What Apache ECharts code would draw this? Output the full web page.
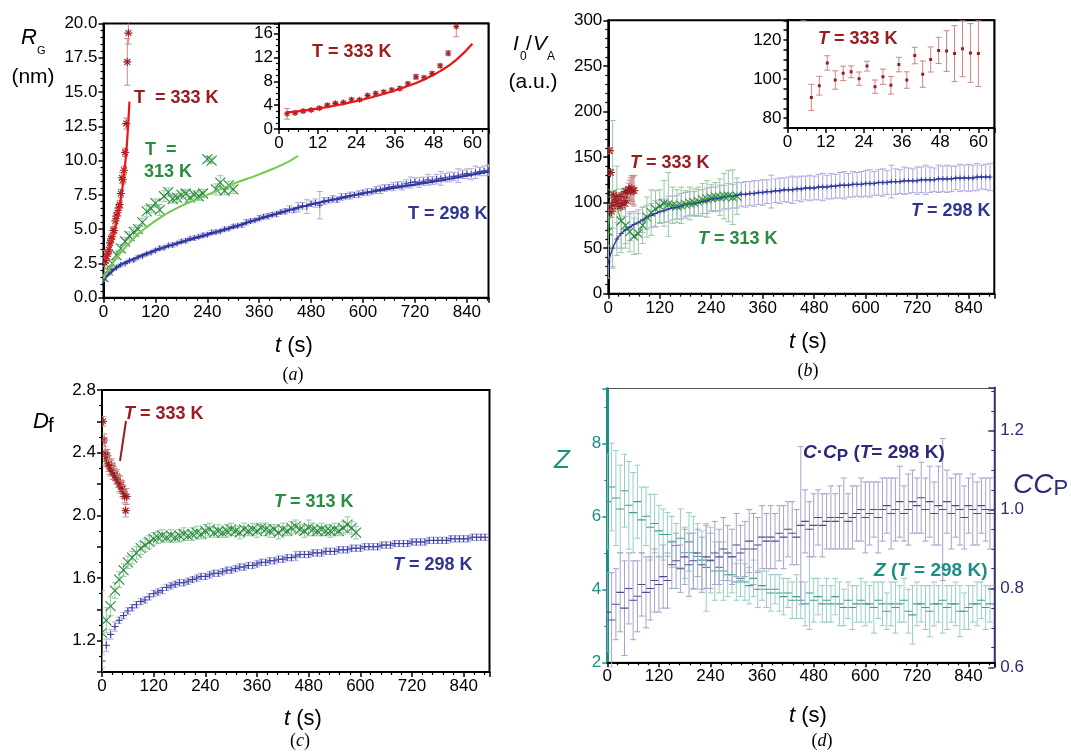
<!DOCTYPE html>
<html><head><meta charset="utf-8">
<script src="https://cdn.jsdelivr.net/npm/echarts@6/dist/echarts.min.js"></script>
<style>html,body{margin:0;padding:0;background:#fff}#chart{width:1071px;height:752px}</style>
</head><body><div id="chart"></div>
<script>
// ---- measurement times (s) ----
const t298 = [0,10,20,30,40,50,60,70,80,90,100,110,120,130,140,150,160,170,180,190,200,210,220,230,240,250,260,270,280,290,300,310,320,330,340,350,360,370,380,390,400,410,420,430,440,450,460,470,480,490,500,510,520,530,540,550,560,570,580,590,600,610,620,630,640,650,660,670,680,690,700,710,720,730,740,750,760,770,780,790,800,810,820,830,840,850,860,870,880,890];
const t313 = [0,10,20,30,40,50,60,70,80,90,100,110,120,130,140,150,160,170,180,190,200,210,220,230,240,250,260,270,280,290,300];
const t313Df = [0,10,20,30,40,50,60,70,80,90,100,110,120,130,140,150,160,170,180,190,200,210,220,230,240,250,260,270,280,290,300,310,320,330,340,350,360,370,380,390,400,410,420,430,440,450,460,470,480,490,500,510,520,530,540,550,560,570,580,590];
const t333 = [2.5,5,7.5,10,12.5,15,17.5,20,22.5,25,27.5,30,32.5,35,37.5,40,42.5,45,47.5,50,52.5,55,57.5];
const t333Iva = [2.5,5,7.5,10,12.5,15,17.5,20,22.5,25,27.5,30,32.5,35,37.5,40,42.5,45,47.5,50,52.5,55,57.5,60];

// ---- (a) radius of gyration R_G (nm) ----
const rg298 = [1.30,1.75,2.05,2.20,2.40,2.50,2.70,2.75,2.95,3.05,3.20,3.30,3.45,3.60,3.65,3.80,3.85,3.95,4.10,4.15,4.30,4.35,4.45,4.55,4.60,4.75,4.80,4.85,5.00,5.05,5.20,5.25,5.30,5.50,5.60,5.65,5.80,5.90,5.95,6.05,6.10,6.25,6.30,6.45,6.40,6.60,6.70,6.65,6.85,6.90,6.75,7.05,7.10,7.20,7.15,7.35,7.40,7.45,7.50,7.55,7.65,7.70,7.75,7.85,7.90,8.00,8.05,8.10,8.20,8.15,8.30,8.40,8.45,8.40,8.50,8.60,8.55,8.65,8.70,8.75,8.80,8.85,8.90,9.00,9.05,9.00,9.15,9.20,9.25,9.30];
const rg298Err = [0.10,0.12,0.10,0.10,0.12,0.10,0.12,0.10,0.12,0.10,0.12,0.10,0.12,0.15,0.10,0.12,0.15,0.10,0.12,0.15,0.12,0.15,0.12,0.15,0.12,0.15,0.15,0.12,0.15,0.12,0.15,0.12,0.15,0.20,0.15,0.12,0.20,0.15,0.20,0.15,0.20,0.15,0.20,0.25,0.20,0.35,0.25,0.50,0.20,0.30,1.00,0.25,0.20,0.25,0.20,0.25,0.20,0.25,0.20,0.25,0.20,0.25,0.20,0.25,0.30,0.25,0.20,0.30,0.25,0.30,0.30,0.40,0.30,0.35,0.30,0.40,0.30,0.35,0.50,0.30,0.35,0.30,0.50,0.30,0.35,0.40,0.45,0.30,0.35,0.40];
const rg313 = [1.5,2.0,2.5,3.1,3.6,4.1,4.5,4.8,5.0,5.5,6.3,6.5,6.9,6.4,7.4,7.7,7.2,7.3,7.5,7.6,7.3,7.5,7.4,7.6,10.1,10.0,7.9,8.4,7.8,8.2,7.9];
const rg313Err = [0.2,0.3,0.3,0.3,0.3,0.3,0.3,0.3,0.3,0.3,0.4,0.3,0.3,0.4,0.4,0.3,0.3,0.3,0.3,0.3,0.3,0.3,0.3,0.3,0.2,0.2,0.4,0.5,0.3,0.3,0.3];
const rg333 = [2.55,2.7,3.0,3.2,3.5,4.0,4.3,4.45,4.9,4.9,5.6,5.95,6.2,6.55,6.8,7.6,8.75,8.6,9.3,10.6,12.7,17.2,19.3];
const rg333Err = [0.9,0.2,0.2,0.2,0.2,0.2,0.2,0.2,0.3,0.2,0.3,0.3,0.3,0.3,0.3,0.3,0.4,0.3,0.3,0.3,0.4,1.7,0.8];
// fitted growth curves
const fit298T = [0,30,60,120,180,240,300,360,420,480,540,600,660,720,780,840,890];
const fit298 = [1.3,2.2,2.7,3.45,4.05,4.6,5.15,5.75,6.3,6.8,7.2,7.6,7.95,8.25,8.55,8.9,9.2];
const fit313T = [0,15,30,60,90,120,150,180,210,240,270,300,360,420,450];
const fit313 = [1.4,2.2,2.9,4.0,4.9,5.6,6.2,6.7,7.1,7.5,7.9,8.3,9.0,9.8,10.35];
const fit333T = [2.5,10,20,30,40,45,50,55,60];
const fit333 = [2.8,3.25,4.2,5.5,7.2,8.3,9.7,11.6,14.3];

// ---- (b) forward scattering per volume I0/VA (a.u.) ----
const iva298 = [35,50,60,66,70,73,76,78,81,84,86,88,90,91,93,94,95,96,98,99,99,100,101,102,104,104,105,106,107,107,108,109,109,110,110,111,111,112,112,113,113,114,114,114,115,115,116,116,116,117,117,117,118,118,119,119,119,120,120,120,121,121,121,122,122,122,123,123,123,124,124,124,124,125,125,125,125,126,126,126,126,127,127,127,127,127,128,128,128,128];
const iva298Err = [18,22,18,16,15,15,14,14,14,13,13,14,13,13,14,13,13,14,13,13,13,14,13,14,13,13,14,13,14,13,14,13,14,13,14,13,14,13,18,13,14,13,14,15,13,14,13,14,13,14,15,13,14,13,14,15,13,14,13,14,14,15,13,14,15,13,18,14,13,15,14,13,15,14,16,14,13,15,14,15,14,13,15,14,15,14,15,13,14,15];
const iva313 = [68,110,95,80,75,68,63,66,75,84,89,93,96,99,98,97,96,97,98,99,100,101,103,104,105,106,106,107,107,106,107];
const iva313Err = [30,80,45,35,25,22,20,22,20,22,25,20,18,25,35,20,18,20,15,18,15,16,18,20,15,16,20,25,28,30,20];
const iva333 = [157,133,90.6,96.6,108.2,99.5,102.9,103.7,100.2,106.6,96.1,101.2,96.8,107.4,99.5,112,102.5,110,114.6,114.3,113,115.5,113.3,113];
const iva333Err = [3,3,6.7,4.8,3.7,4.7,3.7,3,3.4,2.5,3.4,3.9,4.5,3.7,4.2,4.2,6.7,6.4,6.7,10.4,14.3,14.3,15,16.8];

// ---- (c) fractal dimension Df ----
const df298 = [1.07,1.17,1.24,1.29,1.33,1.36,1.39,1.41,1.43,1.45,1.46,1.48,1.50,1.51,1.52,1.54,1.55,1.56,1.57,1.57,1.58,1.59,1.60,1.61,1.61,1.62,1.63,1.63,1.64,1.65,1.65,1.66,1.67,1.67,1.68,1.68,1.69,1.70,1.70,1.71,1.71,1.72,1.72,1.73,1.73,1.74,1.75,1.75,1.75,1.76,1.76,1.76,1.77,1.77,1.77,1.78,1.78,1.78,1.79,1.79,1.79,1.80,1.80,1.80,1.80,1.81,1.81,1.81,1.82,1.82,1.82,1.82,1.83,1.83,1.83,1.83,1.84,1.84,1.84,1.84,1.84,1.85,1.85,1.85,1.85,1.85,1.86,1.86,1.86,1.86];
const df298Err = [0.04,0.04,0.03,0.03,0.02,0.02,0.02,0.02,0.02,0.02,0.02,0.02,0.02,0.02,0.02,0.02,0.02,0.02,0.02,0.02,0.02,0.02,0.02,0.02,0.02,0.02,0.02,0.02,0.02,0.02,0.02,0.02,0.02,0.02,0.02,0.02,0.02,0.02,0.02,0.02,0.02,0.02,0.02,0.02,0.02,0.03,0.02,0.02,0.02,0.02,0.02,0.02,0.02,0.02,0.02,0.02,0.02,0.02,0.02,0.02,0.02,0.02,0.02,0.02,0.02,0.02,0.02,0.02,0.02,0.02,0.02,0.02,0.02,0.02,0.02,0.02,0.02,0.02,0.02,0.02,0.02,0.02,0.02,0.02,0.02,0.02,0.02,0.02,0.02,0.02];
const df313 = [1.25,1.33,1.42,1.52,1.59,1.65,1.70,1.73,1.76,1.79,1.81,1.83,1.85,1.86,1.87,1.86,1.87,1.86,1.87,1.88,1.87,1.88,1.89,1.88,1.90,1.91,1.89,1.90,1.89,1.90,1.91,1.90,1.89,1.91,1.90,1.91,1.90,1.92,1.91,1.90,1.91,1.89,1.91,1.90,1.92,1.93,1.91,1.90,1.92,1.91,1.90,1.91,1.90,1.90,1.91,1.90,1.92,1.94,1.92,1.89];
const df313Err = [0.27,0.08,0.06,0.05,0.05,0.04,0.04,0.04,0.04,0.04,0.04,0.04,0.04,0.04,0.04,0.03,0.04,0.03,0.04,0.04,0.03,0.04,0.04,0.03,0.04,0.04,0.03,0.04,0.03,0.04,0.04,0.03,0.04,0.04,0.03,0.04,0.04,0.03,0.04,0.04,0.03,0.04,0.04,0.03,0.04,0.04,0.03,0.04,0.05,0.04,0.03,0.04,0.03,0.04,0.04,0.03,0.04,0.05,0.04,0.04];
const df333 = [2.60,2.48,2.40,2.36,2.38,2.33,2.31,2.30,2.32,2.28,2.27,2.26,2.24,2.25,2.22,2.20,2.21,2.18,2.17,2.15,2.12,2.03,2.12];
const df333Err = [0.03,0.04,0.08,0.05,0.04,0.05,0.05,0.05,0.04,0.05,0.04,0.04,0.04,0.04,0.04,0.05,0.04,0.04,0.05,0.04,0.04,0.04,0.05];

// ---- (d) coordination number Z and C*Cp at 298 K ----
const z298 = [6.4,6.8,6.5,6.2,6.7,6.3,6.1,6.4,5.9,6.0,5.7,5.8,5.6,5.5,5.5,5.3,5.2,5.4,5.0,5.3,5.0,4.9,4.8,4.6,4.8,4.5,4.6,4.5,4.4,4.4,4.2,4.3,4.2,4.1,4.3,4.0,4.1,4.0,3.9,4.0,3.9,3.8,3.9,3.7,3.8,3.7,3.6,3.9,3.7,3.8,3.6,3.7,3.6,3.8,3.6,3.5,3.7,3.5,3.6,3.7,3.6,3.6,3.5,3.7,3.6,3.4,3.6,3.5,3.6,3.7,3.4,3.3,3.6,3.6,3.5,3.4,3.6,3.6,3.7,3.5,3.6,3.6,3.4,3.4,3.5,3.6,3.6,3.7,3.5,3.6];
const z298Err = [1.3,1.2,1.3,1.2,1.0,1.2,1.1,1.0,0.9,0.8,0.9,0.8,0.7,0.7,0.6,0.7,0.6,0.8,0.7,0.8,1.0,0.9,0.8,1.2,0.9,0.8,0.7,0.8,0.6,0.5,0.5,0.5,0.5,0.5,0.5,0.5,0.4,0.5,0.5,0.4,0.5,0.5,0.4,0.5,0.6,0.5,0.6,1.0,0.6,0.5,0.5,0.6,0.5,0.5,0.6,0.5,0.5,0.6,0.5,0.6,0.6,0.5,0.7,0.5,0.6,0.5,0.6,0.7,0.5,0.6,0.6,0.8,0.6,0.5,0.6,0.7,0.6,0.5,0.9,0.6,0.5,0.6,0.7,0.5,0.6,0.5,0.6,0.5,0.6,0.5];
const cc298 = [0.74,0.72,0.76,0.79,0.75,0.80,0.77,0.78,0.81,0.79,0.80,0.82,0.81,0.83,0.82,0.86,0.87,0.85,0.88,0.86,0.87,0.89,0.86,0.88,0.87,0.89,0.88,0.90,0.89,0.88,0.91,0.89,0.90,0.92,0.90,0.91,0.93,0.92,0.93,0.92,0.94,0.93,0.95,0.94,0.93,0.96,0.97,0.95,0.96,0.98,0.96,0.97,0.98,0.97,0.98,0.99,0.97,0.98,0.99,1.00,0.98,0.99,1.00,0.98,1.00,1.01,0.99,1.00,1.02,0.99,1.00,1.02,1.01,1.03,1.00,1.02,0.99,1.01,1.00,1.02,0.99,1.01,1.00,0.98,1.01,1.00,0.99,1.01,1.00,0.99];
const cc298Err = [0.10,0.12,0.09,0.10,0.12,0.09,0.10,0.09,0.08,0.09,0.08,0.08,0.07,0.08,0.07,0.06,0.07,0.06,0.07,0.08,0.07,0.06,0.07,0.08,0.07,0.08,0.07,0.08,0.07,0.07,0.08,0.07,0.07,0.08,0.09,0.07,0.08,0.07,0.08,0.07,0.07,0.08,0.07,0.08,0.07,0.20,0.08,0.07,0.08,0.07,0.08,0.07,0.08,0.07,0.08,0.09,0.07,0.08,0.07,0.08,0.09,0.08,0.07,0.09,0.08,0.07,0.09,0.08,0.09,0.07,0.09,0.08,0.07,0.09,0.08,0.09,0.08,0.10,0.18,0.08,0.09,0.08,0.09,0.08,0.07,0.09,0.08,0.07,0.08,0.09];

// ---- styling ----
const COL = {
  darkRed:'#9b1c20', redFit:'#e5171b', redBar:'#c98886',
  green:'#2a8c3e', greenFit:'#74c94c', greenBar:'#97c9a0',
  blue:'#2e3494', blueMark:'#3c3fa6', blueBar:'#aeacdc', blueFit:'#2c39a0',
  teal:'#1e8e84', tealMark:'#3c9c92', tealBar:'#98ccc5',
  navy:'#2c2a78', navyMark:'#4b4891', navyBar:'#a5a2cb'
};
const SANS = '"Liberation Sans", Arial, sans-serif';
const SERIF = '"Liberation Serif", "Times New Roman", serif';

function zip3(t, v, e) { return t.map((x, i) => [x, v[i], e[i]]); }
function zip2(t, v) { return t.map((x, i) => [x, v[i]]); }

// error bar with caps plus a stroked marker glyph
function errRender(kind, size, markColor, barColor, cap) {
  return function (params, api) {
    const t = api.value(0), v = api.value(1), e = api.value(2);
    const c = api.coord([t, v]);
    const hi = api.coord([t, v + e]);
    const lo = api.coord([t, v - e]);
    const ch = [];
    const bs = { stroke: barColor, lineWidth: 1 };
    if (e > 0) {
      ch.push({ type: 'line', shape: { x1: c[0], y1: hi[1], x2: c[0], y2: lo[1] }, style: bs });
      ch.push({ type: 'line', shape: { x1: c[0] - cap, y1: hi[1], x2: c[0] + cap, y2: hi[1] }, style: bs });
      ch.push({ type: 'line', shape: { x1: c[0] - cap, y1: lo[1], x2: c[0] + cap, y2: lo[1] }, style: bs });
    }
    const h = size / 2, x = c[0], y = c[1];
    const ms = { stroke: markColor, lineWidth: 1.1 };
    const seg = (x1, y1, x2, y2) => ch.push({ type: 'line', shape: { x1, y1, x2, y2 }, style: ms });
    if (kind === 'plus' || kind === 'star') { seg(x - h, y, x + h, y); seg(x, y - h, x, y + h); }
    if (kind === 'cross') { seg(x - h, y - h, x + h, y + h); seg(x - h, y + h, x + h, y - h); }
    if (kind === 'star') { const d = h * 0.72; seg(x - d, y - d, x + d, y + d); seg(x - d, y + d, x + d, y - d); }
    if (kind === 'dash') seg(x - h, y, x + h, y);
    if (kind === 'dot') ch.push({ type: 'rect', shape: { x: x - 1.5, y: y - 1.5, width: 3, height: 3 }, style: { fill: markColor } });
    return { type: 'group', children: ch };
  };
}
function errSeries(idx, data, kind, size, markColor, barColor, cap, z) {
  return { type: 'custom', xAxisIndex: idx, yAxisIndex: idx, data: data, clip: true,
    renderItem: errRender(kind, size, markColor, barColor, cap), z: z || 2,
    encode: { x: 0, y: 1 }, silent: true };
}
function lineSeries(idx, data, color, width, smooth, z) {
  return { type: 'line', xAxisIndex: idx, yAxisIndex: idx, data: data, smooth: smooth,
    showSymbol: false, symbol: 'none', clip: true, lineStyle: { color: color, width: width }, z: z || 3, silent: true };
}

function valAxis(o) {
  const base = {
    type: 'value',
    axisLine: { show: true, onZero: false, lineStyle: { color: '#000', width: 2 } },
    axisTick: { show: true, inside: false, length: 5, lineStyle: { color: '#000', width: 1.5 } },
    minorTick: { show: true, splitNumber: 5, length: 3, lineStyle: { color: '#000', width: 1.2 } },
    splitLine: { show: false },
    axisLabel: { color: '#000', fontSize: 17, fontFamily: SANS, margin: 6 }
  };
  const r = Object.assign({}, base, o);
  if (o.axisLabel) r.axisLabel = Object.assign({}, base.axisLabel, o.axisLabel);
  if (o.minorTick) r.minorTick = Object.assign({}, base.minorTick, o.minorTick);
  if (o.axisTick) r.axisTick = Object.assign({}, base.axisTick, o.axisTick);
  if (o.axisLine) r.axisLine = o.axisLine;
  return r;
}

const grids = [
  { left: 103.5, top: 23.5, width: 385, height: 274.2 },              // 0 (a)
  { left: 279, top: 23.5, width: 209.5, height: 105.5, inset: true },  // 1 (a) inset
  { left: 608.3, top: 20.3, width: 386, height: 273.4 },              // 2 (b)
  { left: 787.5, top: 20.3, width: 206.8, height: 107.7, inset: true },// 3 (b) inset
  { left: 102, top: 390, width: 387.5, height: 282 },                 // 4 (c)
  { left: 607.3, top: 388.5, width: 387, height: 273.8 },             // 5 (d)
  { left: 607.3, top: 387.3, width: 387, height: 280 }                // 6 (d) right scale
].map((g, i) => ({
  left: g.left, top: g.top, width: g.width, height: g.height,
  show: i !== 6, borderColor: i === 5 ? '#555' : '#000', borderWidth: i === 5 ? 1.2 : 2,
  backgroundColor: g.inset ? '#fff' : 'transparent', z: g.inset ? 5 : 0
}));

const noMax = { showMaxLabel: false };
const xAxes = [
  valAxis({ gridIndex: 0, min: 0, max: 890, interval: 120, axisLabel: noMax }),
  valAxis({ gridIndex: 1, min: 0, max: 65, interval: 12, axisLabel: noMax, minorTick: { splitNumber: 4 }, z: 6 }),
  valAxis({ gridIndex: 2, min: 0, max: 900, interval: 120, axisLabel: noMax }),
  valAxis({ gridIndex: 3, min: 0, max: 65, interval: 12, axisLabel: noMax, minorTick: { splitNumber: 4 }, z: 6 }),
  valAxis({ gridIndex: 4, min: 0, max: 900, interval: 120, axisLabel: noMax }),
  valAxis({ gridIndex: 5, min: 0, max: 900, interval: 120, axisLabel: noMax }),
  { type: 'value', gridIndex: 6, min: 0, max: 900, show: false }
];
const yAxes = [
  valAxis({ gridIndex: 0, min: 0, max: 20, interval: 2.5, axisLabel: { formatter: v => v.toFixed(1) } }),
  valAxis({ gridIndex: 1, min: 0, max: 17.7, interval: 4, axisLabel: noMax, minorTick: { splitNumber: 4 }, z: 6 }),
  valAxis({ gridIndex: 2, min: 0, max: 300, interval: 50 }),
  valAxis({ gridIndex: 3, min: 75, max: 130, interval: 5, z: 6,
    axisLabel: { formatter: v => (Math.round(v) % 20 === 0 ? String(Math.round(v)) : '') },
    axisTick: { length: 4 }, minorTick: { show: false } }),
  valAxis({ gridIndex: 4, min: 1.0, max: 2.8, interval: 0.2,
    axisLabel: { formatter: v => (Math.round(v * 10) % 4 === 0 ? v.toFixed(1) : '') },
    minorTick: { splitNumber: 2 } }),
  valAxis({ gridIndex: 5, min: 2, max: 9.5, interval: 2, position: 'left',
    axisLine: { show: true, onZero: false, lineStyle: { color: COL.teal, width: 3 } },
    axisTick: { lineStyle: { color: COL.teal, width: 1.5 } },
    minorTick: { splitNumber: 2, lineStyle: { color: COL.teal, width: 1 } },
    axisLabel: { color: COL.teal, showMaxLabel: false } }),
  valAxis({ gridIndex: 6, min: 0.6, max: 1.31, interval: 0.2, position: 'right',
    axisLine: { show: true, onZero: false, lineStyle: { color: COL.navy, width: 1.6 } },
    axisTick: { inside: true, length: 6, lineStyle: { color: COL.navy, width: 1.5 } },
    minorTick: { splitNumber: 4, length: 3, lineStyle: { color: COL.navy, width: 1 } },
    axisLabel: { color: COL.navy, showMaxLabel: false, formatter: v => v.toFixed(1) } })
];

const series = [
  // (a)
  errSeries(0, zip3(t298, rg298, rg298Err), 'plus', 6, COL.blueMark, COL.blueBar, 3),
  lineSeries(0, zip2(fit298T, fit298), COL.blueFit, 2.2, true),
  errSeries(0, zip3(t313, rg313, rg313Err), 'cross', 10, COL.green, COL.greenBar, 3),
  lineSeries(0, zip2(fit313T, fit313), COL.greenFit, 2, true),
  errSeries(0, zip3(t333, rg333, rg333Err), 'star', 8, COL.darkRed, COL.redBar, 3),
  lineSeries(0, zip2(fit333T, fit333), COL.redFit, 2.2, true),
  // (a) inset
  errSeries(1, zip3(t333, rg333, rg333Err), 'star', 6, COL.darkRed, COL.redBar, 3, 7),
  lineSeries(1, zip2(fit333T, fit333), COL.redFit, 2.2, true, 8),
  // (b)
  errSeries(2, zip3(t298, iva298, iva298Err), 'plus', 5, COL.blueMark, COL.blueBar, 3),
  lineSeries(2, zip2(t298, iva298), COL.blueFit, 1.4, false),
  errSeries(2, zip3(t313, iva313, iva313Err), 'cross', 9, COL.green, COL.greenBar, 3),
  lineSeries(2, zip2(t313, iva313), COL.green, 1, false),
  errSeries(2, zip3(t333Iva, iva333, iva333Err), 'star', 9, COL.darkRed, COL.redBar, 3, 4),
  // (b) inset
  errSeries(3, zip3(t333Iva, iva333, iva333Err), 'dot', 3, COL.darkRed, COL.redBar, 3, 7),
  // (c)
  errSeries(4, zip3(t298, df298, df298Err), 'plus', 7, COL.blueMark, COL.blueBar, 3),
  errSeries(4, zip3(t313Df, df313, df313Err), 'cross', 10, COL.green, COL.greenBar, 3),
  errSeries(4, zip3(t333, df333, df333Err), 'star', 8, COL.darkRed, COL.redBar, 3),
  // (d)
  errSeries(5, zip3(t298, z298, z298Err), 'dash', 8, COL.tealMark, COL.tealBar, 3),
  errSeries(6, zip3(t298, cc298, cc298Err), 'dash', 8, COL.navyMark, COL.navyBar, 3)
];

function txt(x, y, text, opt) {
  opt = opt || {};
  return { type: 'text', x: x, y: y, z: 100, silent: true,
    style: { text: text, fill: opt.color || '#000', align: opt.align || 'left', verticalAlign: 'middle',
      fontSize: opt.size || 18, fontFamily: opt.family || SANS, fontWeight: opt.weight || 'normal',
      fontStyle: opt.style || 'normal', rich: opt.rich } };
}
function richT(size, color, weight) {
  return { i: { fontStyle: 'italic', fontSize: size, fontWeight: weight, fontFamily: SANS, fill: color } };
}
const axisT = { size: 22, align: 'center', rich: { i: { fontStyle: 'italic', fontSize: 22, fontFamily: SANS } } };
const capLbl = { size: 18, family: SERIF, align: 'center', rich: { i: { fontStyle: 'italic', fontSize: 18, fontFamily: SERIF } } };

const graphics = [
  // (a)
  txt(21, 38, 'R', { size: 22, style: 'italic' }),
  txt(37, 51, 'G', { size: 11 }),
  txt(33, 77, '(nm)', { size: 21, align: 'center' }),
  txt(134, 98, 'T  = 333 K', { weight: 'bold', color: COL.darkRed }),
  txt(145, 150, 'T  =', { weight: 'bold', color: COL.green }),
  txt(144, 172, '313 K', { weight: 'bold', color: COL.green }),
  txt(408, 214, 'T = 298 K', { weight: 'bold', color: COL.blue }),
  txt(312, 52, 'T = 333 K', { weight: 'bold', color: COL.darkRed }),
  txt(294, 346, '{i|t} (s)', axisT),
  txt(293, 375, '({i|a})', capLbl),
  // (b)
  txt(513, 44, 'I', { size: 21, style: 'italic' }),
  txt(520, 57, '0', { size: 12 }),
  txt(526, 44, '/', { size: 21 }),
  txt(533, 44, 'V', { size: 21, style: 'italic' }),
  txt(547, 57, 'A', { size: 12 }),
  txt(533, 82, '(a.u.)', { size: 21, align: 'center' }),
  txt(630, 163, '{i|T} = 333 K', { weight: 'bold', color: COL.darkRed, rich: richT(18, COL.darkRed, 'bold') }),
  txt(698, 239, '{i|T} = 313 K', { weight: 'bold', color: COL.green, rich: richT(18, COL.green, 'bold') }),
  txt(911, 211, '{i|T} = 298 K', { weight: 'bold', color: COL.blue, rich: richT(18, COL.blue, 'bold') }),
  txt(818, 39, '{i|T} = 333 K', { weight: 'bold', color: COL.darkRed, rich: richT(18, COL.darkRed, 'bold') }),
  txt(808, 342, '{i|t} (s)', axisT),
  txt(808, 371, '({i|b})', capLbl),
  // (c)
  txt(33, 422, 'D', { size: 22, style: 'italic' }),
  txt(48, 426, 'f', { size: 21 }),
  txt(124, 414, '{i|T} = 333 K', { weight: 'bold', color: COL.darkRed, rich: richT(18, COL.darkRed, 'bold') }),
  { type: 'line', z: 100, silent: true, shape: { x1: 126, y1: 421, x2: 120, y2: 461 }, style: { stroke: COL.darkRed, lineWidth: 2 } },
  txt(274, 502, '{i|T} = 313 K', { weight: 'bold', color: COL.green, rich: richT(18, COL.green, 'bold') }),
  txt(393, 565, '{i|T} = 298 K', { weight: 'bold', color: COL.blue, rich: richT(18, COL.blue, 'bold') }),
  txt(303, 719, '{i|t} (s)', axisT),
  txt(300, 741, '({i|c})', capLbl),
  // (d)
  txt(562, 461, 'Z', { size: 26, style: 'italic', color: COL.teal, align: 'center' }),
  txt(803, 453, '{i|C}·{i|C}{p|P} ({i|T}= 298 K)', { weight: 'bold', color: COL.navy,
    rich: { i: { fontStyle: 'italic', fontWeight: 'bold', fontSize: 19, fontFamily: SANS, fill: COL.navy },
            p: { fontWeight: 'bold', fontSize: 17, fontFamily: SANS, fill: COL.navy, padding: [6, 0, 0, 0] } } , size: 19 }),
  txt(874, 571, '{i|Z} ({i|T} = 298 K)', { weight: 'bold', color: COL.teal, size: 19, rich: richT(19, COL.teal, 'bold') }),
  txt(1013, 485, '{i|C}{i|C}{p|P}', { color: COL.navy, size: 28,
    rich: { i: { fontStyle: 'italic', fontSize: 28, fontFamily: SANS, fill: COL.navy },
            p: { fontSize: 22, fontFamily: SANS, fill: COL.navy, padding: [8, 0, 0, 0] } } }),
  txt(808, 716, '{i|t} (s)', axisT),
  txt(822, 741, '({i|d})', capLbl)
];

const chart = echarts.init(document.getElementById('chart'), null, { renderer: 'canvas' });
chart.setOption({
  animation: false,
  backgroundColor: '#fff',
  grid: grids,
  xAxis: xAxes,
  yAxis: yAxes,
  series: series,
  graphic: graphics
});
</script></body></html>
